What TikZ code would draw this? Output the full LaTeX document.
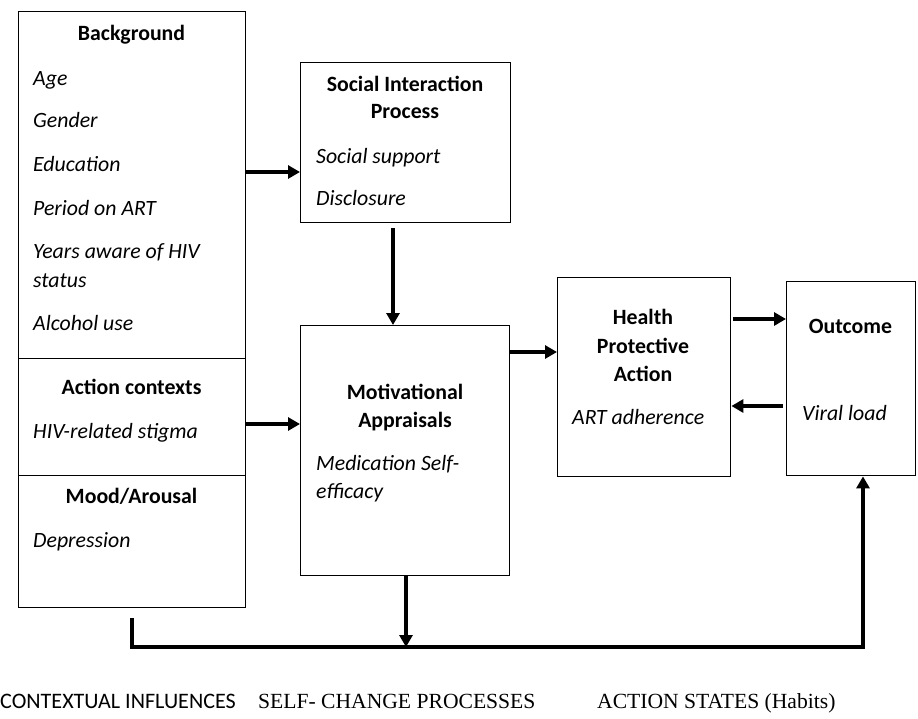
\documentclass[tikz,border=0pt]{standalone}
\usepackage{fontspec}
\setmainfont{Carlito}
\newfontfamily\timesfont{Liberation Serif}
\usetikzlibrary{arrows.meta,positioning}

\tikzset{
  box/.style={draw, line width=1.4pt, inner sep=0pt, anchor=north west},
  head/.style={font=\bfseries, anchor=base, inner sep=0pt},
  item/.style={font=\itshape, anchor=base west, inner sep=0pt},
  arr/.style={line width=3.5pt, -{Triangle[length=12pt,width=13pt]}},
  lbl/.style={anchor=base west, inner sep=0pt},
}

\begin{document}
\fontsize{21.8pt}{30pt}\selectfont%
\begin{tikzpicture}[x=1pt,y=-1pt]
\useasboundingbox (0,0) rectangle (918,718);
% left column
\node[box, minimum width=227pt, minimum height=347pt] (bg) at (18,11) {};
\node[box, minimum width=227pt, minimum height=117pt] (ctx) at (18,358) {};
\node[box, minimum width=227pt, minimum height=132pt] (mood) at (18,475) {};
\node[head] (bgh) at (131.5,40) {Background};
\node[item] (age) at (33,85) {Age};
\node[item] (gen) at (33,127) {Gender};
\node[item] (edu) at (33,171) {Education};
\node[item] (art) at (33,215) {Period on ART};
\node[item] (yrs) at (33,258) {Years aware of HIV};
\node[item] (sts) at (33,287) {status};
\node[item] (alc) at (33,330) {Alcohol use};
\node[head] (ctxh) at (131.5,394) {Action contexts};
\node[item] (stg) at (33,438) {HIV-related stigma};
\node[head] (moodh) at (131.5,503) {Mood/Arousal};
\node[item] (dep) at (33,547) {Depression};
% middle column
\node[box, minimum width=210pt, minimum height=160pt] (soc) at (300,62) {};
\node[head] (soch) at (405,91) {Social Interaction};
\node[head] (soch2) at (405,118) {Process};
\node[item] (sup) at (316,163) {Social support};
\node[item] (dis) at (316,205) {Disclosure};
\node[box, minimum width=209pt, minimum height=250pt] (mot) at (300,325) {};
\node[head] (moth) at (405,399) {Motivational};
\node[head] (moth2) at (405,427) {Appraisals};
\node[item] (med) at (316,470) {Medication Self-};
\node[item] (eff) at (316,498) {efficacy};
% right column
\node[box, minimum width=173pt, minimum height=199pt] (hpa) at (557,277) {};
\node[head] (hpah) at (643,324) {Health};
\node[head] (hpah2) at (643,353) {Protective};
\node[head] (hpah3) at (643,381) {Action};
\node[item] (adh) at (572,424) {ART adherence};
\node[box, minimum width=129pt, minimum height=194pt] (out) at (786,281) {};
\node[head] (outh) at (850.5,333) {Outcome};
\node[item] (vl) at (802,420) {Viral load};
% connectors
\draw[arr] (bg.east |- 0,172) -- (soc.west |- 0,172);
\draw[arr] (ctx.east |- 0,424) -- (mot.west |- 0,424);
\draw[arr] (393,228) -- (mot.north -| 393,0);
\draw[arr] (mot.east |- 0,352) -- (hpa.west |- 0,352);
\draw[arr] (733,319) -- (out.west |- 0,319);
\draw[arr] (783,406) -- (hpa.east |- 0,406);
\coordinate (stub) at (132,618);
\coordinate (low) at (132,647);
\coordinate (turn) at (863,647);
\draw[arr, line width=3.3pt] (stub) -- (low) -- (turn) -- (out.south -| turn);
\draw[arr] (mot.south -| 406,0) -- (406,647);
% column labels
\node[lbl, font=\fontsize{22.1pt}{26pt}\selectfont] (ci) at (0,708) {CONTEXTUAL INFLUENCES};
\node[lbl, font=\timesfont\fontsize{21.6pt}{26pt}\selectfont] (scp) at (258,708) {SELF- CHANGE PROCESSES};
\node[lbl, font=\timesfont\fontsize{21.6pt}{26pt}\selectfont] (as) at (597,708) {ACTION STATES (Habits)};
\end{tikzpicture}
\end{document}
